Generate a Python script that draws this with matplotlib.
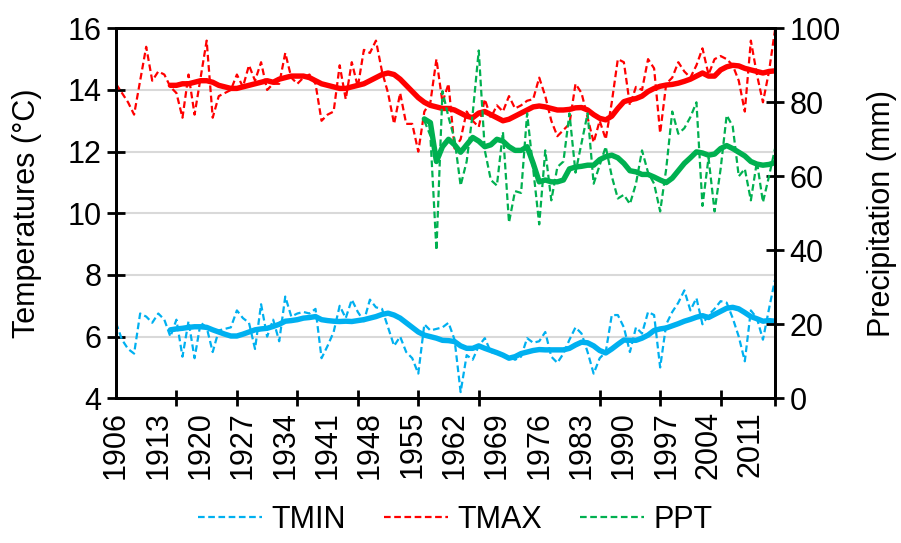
import matplotlib.pyplot as plt
import numpy as np

# Serie anual 1906-2015
years = np.arange(1906, 2016)

tmax = [14.2, 13.9, 13.6, 13.2, 14.3, 15.4, 14.3, 14.6, 14.5, 14.1,
        13.9, 13.1, 14.5, 13.2, 14.4, 15.6, 13.1, 13.8, 13.9, 14.0,
        14.5, 14.1, 14.8, 14.3, 14.9, 14.0, 14.2, 14.2, 15.2, 14.4,
        14.2, 14.4, 14.5, 14.2, 13.0, 13.2, 13.3, 14.8, 13.7, 14.9,
        14.1, 15.3, 15.2, 15.6, 14.6, 13.9, 12.9, 13.9, 12.9, 12.9,
        12.0, 13.3, 13.6, 15.0, 13.6, 14.2, 12.1, 12.4, 13.3, 13.0,
        12.8, 13.7, 13.1, 13.5, 13.3, 13.8, 13.4, 13.5, 13.65, 13.7,
        14.4, 13.8, 13.0, 12.5, 12.7, 12.9, 14.2, 13.9, 13.1, 12.3,
        13.0, 12.4, 13.6, 15.0, 14.9, 13.5, 14.1, 14.0, 15.0, 14.7,
        12.6, 14.2, 14.4, 14.9, 14.6, 14.4, 14.8, 15.35, 14.5, 15.0,
        15.1, 15.0, 14.8, 14.3, 13.3, 15.6, 14.5, 13.6, 14.6, 15.95]

tmin = [6.45, 5.9, 5.6, 5.45, 6.75, 6.65, 6.45, 6.75, 6.55, 6.0,
        6.55, 5.35, 6.5, 5.3, 6.45, 6.3, 5.5, 6.2, 6.25, 6.3,
        6.85, 6.6, 6.45, 5.6, 7.05, 6.0, 6.55, 5.85, 7.3, 6.65,
        6.75, 6.8, 6.75, 6.9, 5.3, 5.7, 6.15, 7.0, 6.6, 7.2,
        6.8, 6.5, 7.2, 6.95, 6.9, 6.3, 5.7, 6.0, 5.5, 5.3,
        4.8, 6.4, 6.2, 6.25, 6.3, 6.45, 5.9, 4.2, 5.4, 5.25,
        5.7, 5.95, 5.5, 5.45, 5.4, 5.35, 5.25, 5.35, 5.95, 5.8,
        5.85, 6.15, 5.35, 5.15, 5.45, 5.9, 6.3, 6.1, 5.5, 4.8,
        5.3, 5.5, 6.7, 6.7, 6.3, 5.5, 6.3, 6.1, 6.8, 6.7,
        5.0, 6.4, 6.8, 7.1, 7.5, 6.85, 7.25, 6.4, 6.7, 6.9,
        7.15, 7.1, 6.6, 6.0, 5.2, 6.85, 6.6, 5.9, 6.9, 7.85]

# Precipitacao so a partir de 1957
ppt_years = np.arange(1957, 2016)
ppt = [75, 71, 40, 83, 76, 70, 57.5, 64, 77, 94,
       67, 59, 57.5, 72, 47.5, 56, 55.5, 77, 62, 47,
       67, 53.5, 62.5, 64, 77, 61, 69, 77, 58, 63,
       68, 60, 54, 55, 52.5, 58, 67, 61, 58, 50.5,
       62, 77.5, 71.5, 73, 76, 80, 52, 65, 50.5, 62,
       76.5, 73.5, 60, 62, 53.5, 64, 53, 60, 67.5]

# Medias moveis (linhas grossas)
ma_years = np.arange(1915, 2016)
tmax_ma = [14.15, 14.15, 14.2, 14.2, 14.25, 14.3, 14.3, 14.25, 14.15, 14.1,
           14.05, 14.05, 14.1, 14.15, 14.2, 14.25, 14.3, 14.25, 14.35, 14.4,
           14.45, 14.45, 14.45, 14.4, 14.3, 14.2, 14.15, 14.1, 14.05, 14.05,
           14.1, 14.15, 14.2, 14.3, 14.4, 14.5, 14.55, 14.5, 14.35, 14.15,
           13.95, 13.75, 13.6, 13.5, 13.45, 13.4, 13.4, 13.35, 13.25, 13.15,
           13.1, 13.25, 13.3, 13.2, 13.1, 13.0, 13.05, 13.15, 13.25, 13.35,
           13.45, 13.48, 13.45, 13.4, 13.35, 13.35, 13.37, 13.42, 13.43, 13.35,
           13.2, 13.08, 13.03, 13.15, 13.4, 13.62, 13.68, 13.72, 13.8, 13.95,
           14.05, 14.12, 14.16, 14.18, 14.22, 14.28, 14.35, 14.45, 14.55, 14.45,
           14.45, 14.65, 14.75, 14.8, 14.78, 14.7, 14.65, 14.6, 14.55, 14.6,
           14.62]
tmin_ma = [6.22, 6.25, 6.27, 6.3, 6.32, 6.32, 6.3, 6.22, 6.15, 6.08,
           6.02, 6.02, 6.08, 6.15, 6.22, 6.25, 6.27, 6.33, 6.4, 6.5,
           6.52, 6.55, 6.6, 6.62, 6.65, 6.55, 6.52, 6.5, 6.49, 6.5,
           6.49, 6.52, 6.55, 6.6, 6.65, 6.72, 6.76, 6.7, 6.6, 6.45,
           6.3, 6.15, 6.05, 6.0, 5.95, 5.88, 5.87, 5.84, 5.7, 5.62,
           5.62, 5.7, 5.62, 5.55, 5.48, 5.4, 5.3, 5.35, 5.45, 5.5,
           5.55, 5.58, 5.57, 5.57, 5.57, 5.57, 5.62, 5.73, 5.82, 5.8,
           5.7, 5.55, 5.47, 5.6, 5.75, 5.89, 5.88, 5.88, 5.95, 6.05,
           6.2, 6.25, 6.28, 6.35, 6.42, 6.5, 6.56, 6.63, 6.68, 6.62,
           6.72, 6.82, 6.92, 6.95, 6.9, 6.78, 6.65, 6.58, 6.5, 6.52,
           6.5]
ppt_ma = [75.5, 74.5, 64, 68, 70, 68.5, 66.5, 68.5, 70.5, 69.5,
          68, 68.5, 70, 69.5, 68, 67, 67, 68, 63.5, 58.5,
          59, 58.5, 58.5, 59, 62, 62.5, 62.7, 63, 63, 64.5,
          65.3, 65.7, 65, 63.5, 61.5, 61.2, 60.5, 60.5, 59.8, 59,
          58.3, 59.5, 61.5, 63.5, 65, 66.6, 66.3, 65.7, 66, 67.5,
          68.3, 67.5, 66.5, 65.5, 64, 63.3, 63, 63.2, 63.7]

label_years = list(range(1906, 2012, 7))
tick_years = list(range(1906, 2007, 10)) + [2015]

plt.rcParams['font.family'] = ['Liberation Sans', 'DejaVu Sans']

c_tmin = '#00B0F0'
c_tmax = '#FF0000'
c_ppt = '#00B050'
dash = (0, (3, 1.6))
fs = 22

fig = plt.figure(figsize=(9.01, 5.43), dpi=100)
ax = fig.add_axes([0.1287, 0.2665, 0.7315, 0.6814])
ax2 = ax.twinx()

l_tmin, = ax.plot(years, tmin, color=c_tmin, lw=1.6, linestyle=dash)
l_tmax, = ax.plot(years, tmax, color=c_tmax, lw=1.6, linestyle=dash)
ax.plot(ma_years[:len(tmin_ma)], tmin_ma, color=c_tmin, lw=3.9, solid_capstyle='round')
ax.plot(ma_years[:len(tmax_ma)], tmax_ma, color=c_tmax, lw=3.9, solid_capstyle='round')

l_ppt, = ax2.plot(ppt_years[:len(ppt)], ppt, color=c_ppt, lw=1.6, linestyle=dash)
ax2.plot(ppt_years[:len(ppt_ma)], ppt_ma, color=c_ppt, lw=3.9, solid_capstyle='round')

ax.set_xlim(1906, 2015)
ax.set_ylim(4, 16)
ax2.set_ylim(0, 100)
ax.set_yticks(np.arange(4, 17, 2))
ax2.set_yticks(np.arange(0, 101, 20))

ax.set_xticks(label_years)
ax.set_xticklabels([str(y) for y in label_years], rotation=90)
ax.set_xticks(tick_years, minor=True)
ax.tick_params(axis='x', which='major', length=0, pad=9, labelsize=fs)
ax.tick_params(axis='x', which='minor', direction='inout', length=12, width=2)
ax.tick_params(axis='y', direction='inout', length=13, width=2, labelsize=fs, pad=4)
ax2.tick_params(axis='y', direction='inout', length=13, width=2, labelsize=fs, pad=4)

ax.grid(axis='y', color='#D9D9D9', lw=1.5)
ax.set_axisbelow(True)
for a in (ax, ax2):
    for s in a.spines.values():
        s.set_linewidth(2)
        s.set_color('black')

ax.set_ylabel('Temperatures (°C)', fontsize=fs, labelpad=18)
ax2.set_ylabel('Precipitation (mm)', fontsize=fs, labelpad=19)

fig.legend([l_tmin, l_tmax, l_ppt], ['TMIN', 'TMAX', 'PPT'],
           loc='lower center', bbox_to_anchor=(0.505, -0.035), ncol=3,
           frameon=False, fontsize=fs, handlelength=2.1, handletextpad=0.3,
           columnspacing=1.25)

fig.savefig('out.png', dpi=100)
